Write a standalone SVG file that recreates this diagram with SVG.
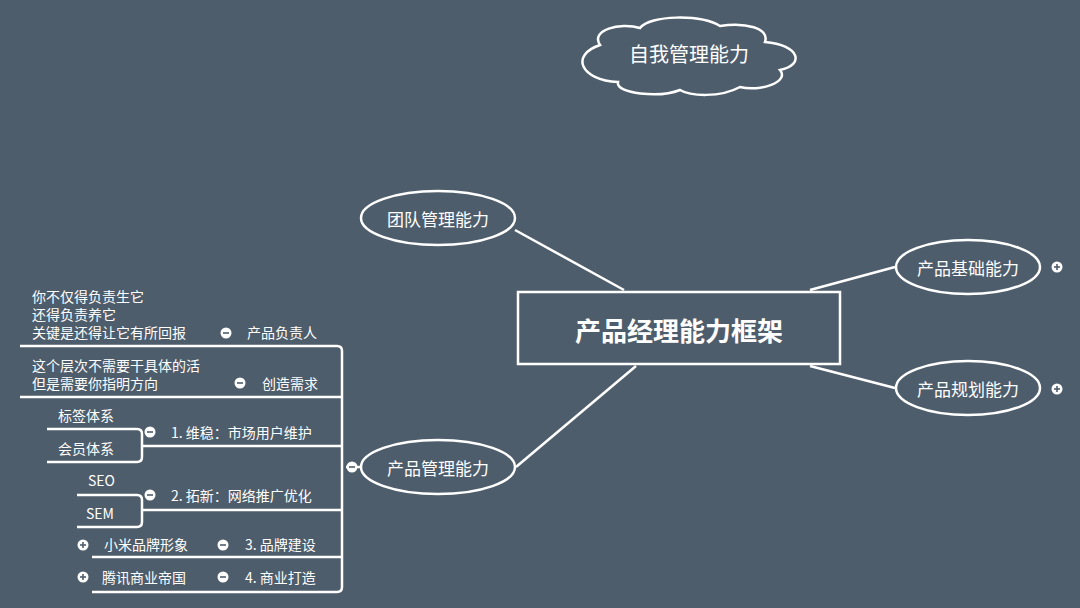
<svg xmlns="http://www.w3.org/2000/svg" width="1080" height="608" viewBox="0 0 1080 608">
<defs>
<style>
text{font-family:"Microsoft YaHei","Noto Sans CJK SC",sans-serif;fill:#fff}
.s{font-size:14px}
.m{font-size:17px;text-anchor:middle;dominant-baseline:central}
.ln{fill:none;stroke:#fff;stroke-width:2.5;stroke-linejoin:round}
.sh{fill:none;stroke:#fff;stroke-width:2.5}
.ic{fill:#fff}
.ig{stroke:#4e5d6b;stroke-width:1.6}
</style>
<g id="minus"><circle r="5.5" class="ic"/><line x1="-3" x2="3" class="ig"/></g>
<g id="plus"><circle r="5.5" class="ic"/><line x1="-3" x2="3" class="ig"/><line y1="-3" y2="3" class="ig"/></g>
</defs>
<rect width="1080" height="608" fill="#4e5d6b"/>
<g id="connectors">
<line x1="515" y1="230" x2="624" y2="290" class="ln"/>
<line x1="810" y1="290" x2="895" y2="267" class="ln"/>
<line x1="810" y1="366" x2="895" y2="388" class="ln"/>
<line x1="636" y1="366" x2="516" y2="467" class="ln"/>
<line x1="352" y1="467" x2="361" y2="467" class="ln"/>
<path d="M20 346H337Q342 346 342 351V587Q342 592 337 592H92" class="ln"/>
<path d="M20 397H342M148 446H342M142 510H342M92 557H342M346 467H352" class="ln"/>
<path d="M47 429H137Q142 429 142 434V457Q142 462 137 462H47M142 446H148" class="ln"/>
<path d="M77 495H137Q142 495 142 500V522Q142 527 137 527H77" class="ln"/>
</g>
<g id="cloud">
<path d="M600 45C590 30 620 22 640 28C650 15 700 14 720 26C745 22 770 28 765 42C800 45 805 65 780 70C790 82 760 92 740 87C720 98 690 96 680 90C660 98 615 94 618 82C580 80 570 55 600 45Z" class="sh"/>
<text x="689" y="53" class="m" style="font-size:20px">自我管理能力</text>
</g>
<g id="root">
<rect x="518" y="292" width="322" height="72" class="sh"/>
<text x="679" y="329" class="m" style="font-size:26px;font-weight:bold">产品经理能力框架</text>
</g>
<g id="team"><ellipse cx="438" cy="218" rx="77" ry="27" class="sh"/><text x="438" y="218" class="m">团队管理能力</text></g>
<g id="basic"><ellipse cx="968" cy="267" rx="72" ry="27" class="sh"/><text x="968" y="267" class="m">产品基础能力</text><use href="#plus" x="1057" y="267"/></g>
<g id="plan"><ellipse cx="968" cy="388" rx="72" ry="27" class="sh"/><text x="968" y="388" class="m">产品规划能力</text><use href="#plus" x="1057" y="389"/></g>
<g id="mgmt"><ellipse cx="438" cy="467" rx="77" ry="27" class="sh"/><text x="438" y="467" class="m">产品管理能力</text><use href="#minus" x="352" y="467"/></g>
<g id="owner">
<text x="32" y="302" class="s">你不仅得负责生它</text>
<text x="32" y="320" class="s">还得负责养它</text>
<text x="32" y="338" class="s">关键是还得让它有所回报</text>
<use href="#minus" x="226" y="333"/><text x="247" y="338" class="s">产品负责人</text>
</g>
<g id="demand">
<text x="32" y="371" class="s">这个层次不需要干具体的活</text>
<text x="32" y="389" class="s">但是需要你指明方向</text>
<use href="#minus" x="240" y="383"/><text x="262" y="389" class="s">创造需求</text>
</g>
<g id="n1">
<text x="58" y="421" class="s">标签体系</text><text x="58" y="454" class="s">会员体系</text>
<use href="#minus" x="150" y="432"/><text x="171" y="438" class="s">1. 维稳：市场用户维护</text>
</g>
<g id="n2">
<text x="88" y="486" class="s">SEO</text><text x="86" y="519" class="s">SEM</text>
<use href="#minus" x="150" y="495"/><text x="171" y="501" class="s">2. 拓新：网络推广优化</text>
</g>
<g id="n3">
<use href="#plus" x="83" y="545"/><text x="104" y="550" class="s">小米品牌形象</text>
<use href="#minus" x="223" y="545"/><text x="245" y="550" class="s">3. 品牌建设</text>
</g>
<g id="n4">
<use href="#plus" x="83" y="577"/><text x="102" y="583" class="s">腾讯商业帝国</text>
<use href="#minus" x="223" y="577"/><text x="245" y="583" class="s">4. 商业打造</text>
</g>
</svg>
